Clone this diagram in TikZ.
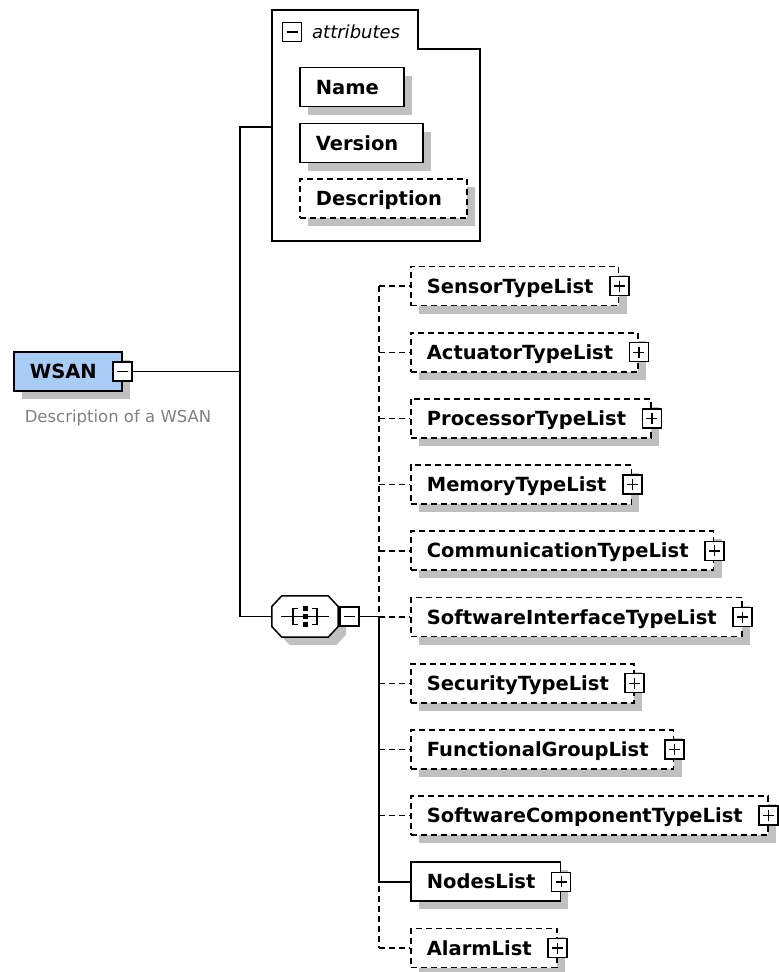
\documentclass[tikz,border=0pt]{standalone}
\usepackage{fontspec}
\setmainfont{DejaVu Sans}
\usepackage{xcolor}
\usetikzlibrary{positioning,shadows}

\definecolor{wsanblue}{RGB}{168,204,245}
\definecolor{shadowgray}{RGB}{192,192,192}
\definecolor{descgray}{RGB}{128,128,128}

\tikzset{
  conn/.style={line width=1.4pt},
  optconn/.style={conn, dash pattern=on 6pt off 4pt},
  boxshadow/.style={drop shadow={shadow xshift=8pt, shadow yshift=-8pt, fill=shadowgray, opacity=1}},
  elem/.style={draw, fill=white, line width=1.7pt, boxshadow, anchor=west,
    inner xsep=0pt, inner ysep=12.5pt, text height=14pt, text depth=0pt,
    font=\fontsize{19.5}{22}\selectfont\bfseries,
    execute at begin node=\hspace*{16pt}, execute at end node=\hspace*{25pt}},
  optelem/.style={elem, dash pattern=on 6pt off 4pt},
  btn/.style={draw, fill=white, line width=1.4pt, minimum size=19pt, inner sep=0pt},
  minusbtn/.style={btn, path picture={
    \draw[line width=1.4pt] ([xshift=4pt]path picture bounding box.west) -- ([xshift=-4pt]path picture bounding box.east);}},
  plusbtn/.style={btn, path picture={
    \draw[line width=1.4pt] ([xshift=4pt]path picture bounding box.west) -- ([xshift=-4pt]path picture bounding box.east)
      ([yshift=-4pt]path picture bounding box.north) -- ([yshift=4pt]path picture bounding box.south);}}
}

\begin{document}
\begin{tikzpicture}[x=1pt, y=-1pt]
    \path[fill=white, use as bounding box] (0,0) rectangle (779,972);

    % Root element
    \node[elem, fill=wsanblue] (wsan) at (13,371.5) {WSAN};
    \node[minusbtn] (wsanminus) at (wsan.east) {};
    \node[anchor=base, font=\fontsize{16.5}{20}\selectfont, text=descgray] (wsandesc) at (118,422) {Description of a WSAN};

    % Attributes
    \draw[line width=1.5pt] (272,10) -- (418,10) -- (418,49) -- (480,49) -- (480,241) -- (272,241) -- cycle;
    \coordinate (attrin) at (272,127);
    \node[minusbtn] (attrminus) at (292,32) {};
    \node[anchor=base west, inner sep=0pt, font=\fontsize{18}{20}\selectfont\itshape] (attrlabel) at (312,38) {attributes};
    \node[elem] (name) at (299,87) {Name};
    \node[elem] (version) at (299,143) {Version};
    \node[optelem] (description) at (299,198.5) {Description};

    % Sequence
    \node[minimum width=66pt, minimum height=41pt, inner sep=0pt] (seq) at (305,616.5) {};
    \draw[line width=1.5pt, fill=white, boxshadow]
      ([yshift=10pt]seq.west) -- ([xshift=10pt]seq.north west) -- ([xshift=-10pt]seq.north east)
      -- ([yshift=10pt]seq.east) -- ([yshift=-10pt]seq.east) -- ([xshift=-10pt]seq.south east)
      -- ([xshift=10pt]seq.south west) -- ([yshift=-10pt]seq.west) -- cycle;
    \draw[conn] ([xshift=-24pt]seq.center) -- ([xshift=24pt]seq.center);
    \draw[conn] ([xshift=-7pt,yshift=8pt]seq.center) -| ([xshift=-12pt,yshift=-8pt]seq.center) -- ([xshift=-7pt,yshift=-8pt]seq.center);
    \draw[conn] ([xshift=7pt,yshift=8pt]seq.center) -| ([xshift=12pt,yshift=-8pt]seq.center) -- ([xshift=7pt,yshift=-8pt]seq.center);
    \fill ([xshift=-2.5pt,yshift=5.5pt]seq.center) rectangle ([xshift=2.5pt,yshift=10.5pt]seq.center);
    \fill ([xshift=-2.5pt,yshift=-2.5pt]seq.center) rectangle ([xshift=2.5pt,yshift=2.5pt]seq.center);
    \fill ([xshift=-2.5pt,yshift=-10.5pt]seq.center) rectangle ([xshift=2.5pt,yshift=-5.5pt]seq.center);
    \node[minusbtn, right=1pt of seq] (seqminus) {};

    % Children
    \node[optelem] (sensor) at (410,286) {SensorTypeList};
    \node[optelem] (actuator) at (410,352.2) {ActuatorTypeList};
    \node[optelem] (processor) at (410,418.4) {ProcessorTypeList};
    \node[optelem] (memory) at (410,484.6) {MemoryTypeList};
    \node[optelem] (communication) at (410,550.8) {CommunicationTypeList};
    \node[optelem] (swinterface) at (410,617) {SoftwareInterfaceTypeList};
    \node[optelem] (security) at (410,683.2) {SecurityTypeList};
    \node[optelem] (functional) at (410,749.4) {FunctionalGroupList};
    \node[optelem] (swcomponent) at (410,815.6) {SoftwareComponentTypeList};
    \node[elem] (nodes) at (410,881.8) {NodesList};
    \node[optelem] (alarm) at (410,948) {AlarmList};

    \node[plusbtn] (sensorplus) at (sensor.east) {};
    \node[plusbtn] (actuatorplus) at (actuator.east) {};
    \node[plusbtn] (processorplus) at (processor.east) {};
    \node[plusbtn] (memoryplus) at (memory.east) {};
    \node[plusbtn] (communicationplus) at (communication.east) {};
    \node[plusbtn] (swinterfaceplus) at (swinterface.east) {};
    \node[plusbtn] (securityplus) at (security.east) {};
    \node[plusbtn] (functionalplus) at (functional.east) {};
    \node[plusbtn] (swcomponentplus) at (swcomponent.east) {};
    \node[plusbtn] (nodesplus) at (nodes.east) {};
    \node[plusbtn] (alarmplus) at (alarm.east) {};

    % Connectors
    \coordinate (trunk) at (240,372);
    \coordinate (bus) at (379,617);
    \draw[conn] (wsanminus.east) -- (wsanminus.east -| trunk);
    \draw[conn] (attrin) -- (attrin -| trunk) -- (seq.west -| trunk) -- (seq.west);
    \draw[conn] (seqminus.east) -- (seqminus.east -| bus);
    \draw[optconn] (bus |- sensor.west) -- (bus |- alarm.west);
    \draw[conn] (bus) -- (bus |- nodes.west) -- (nodes.west);
    \draw[optconn] (bus |- sensor.west) -- (sensor.west);
    \draw[optconn] (bus |- actuator.west) -- (actuator.west);
    \draw[optconn] (bus |- processor.west) -- (processor.west);
    \draw[optconn] (bus |- memory.west) -- (memory.west);
    \draw[optconn] (bus |- communication.west) -- (communication.west);
    \draw[optconn] (bus |- swinterface.west) -- (swinterface.west);
    \draw[optconn] (bus |- security.west) -- (security.west);
    \draw[optconn] (bus |- functional.west) -- (functional.west);
    \draw[optconn] (bus |- swcomponent.west) -- (swcomponent.west);
    \draw[optconn] (bus |- alarm.west) -- (alarm.west);
\end{tikzpicture}
\end{document}
